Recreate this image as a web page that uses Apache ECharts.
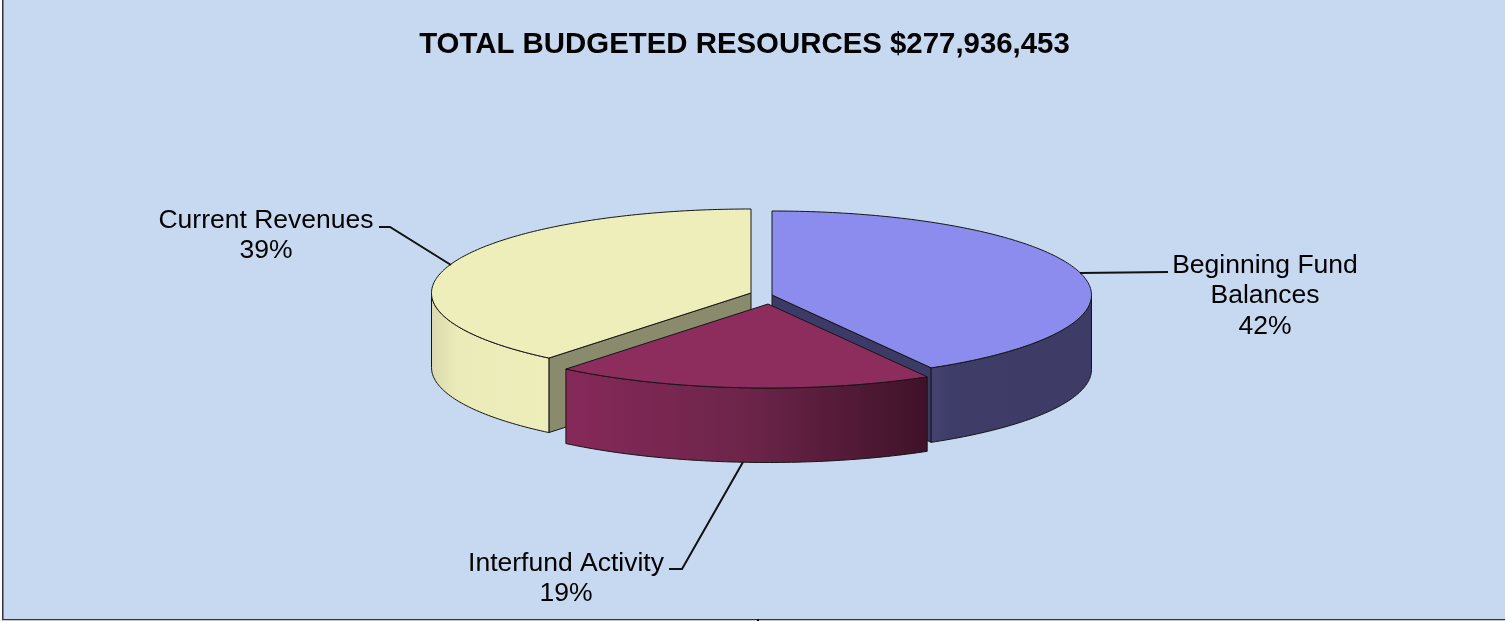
<!DOCTYPE html>
<html><head><meta charset="utf-8">
<style>html,body{margin:0;padding:0;background:#fff}#c{width:1505px;height:621px}</style>
<script src="https://cdn.jsdelivr.net/npm/echarts@6/dist/echarts.min.js"></script>
</head><body><div id="c"></div>
<script>
const titleText = 'TOTAL BUDGETED RESOURCES $277,936,453';
// clockwise from 12 o'clock
const categories = ['Beginning Fund\nBalances', 'Interfund Activity', 'Current Revenues'];
const shares = [41.7, 19.2, 39.1];

const RX = 319.5, RY = 84, DEPTH = 74.5;
const look = [
  {apex:[772,295], paint:1, top:'#8C8CEE', wall:'#3C3A66',
   side:[[0,'#45436F'],[0.12,'#3E3C68'],[1,'#3E3C66']],
   label:[1265,265], line:[[1080,273],[1168,272]]},
  {apex:[768,304], paint:2, top:'#8C2D5E', wall:'#6A2147',
   side:[[0,'#86295A'],[0.5,'#6C2549'],[1,'#3F1229']],
   label:[566,563], line:[[743,462],[682,569],[669,569]]},
  {apex:[751,293], paint:0, top:'#EEEEBB', wall:'#8A8A6C',
   side:[[0,'#D9D9AE'],[0.22,'#EBEBB9'],[1,'#EEEEBB']],
   label:[266,220], line:[[379,227],[390,227],[451,265]]}
];
const total = shares.reduce((a,b)=>a+b,0);
const STROKE = '#161616';

function pt(c, deg, dy){
  const t = deg*Math.PI/180;
  return [c[0]+RX*Math.sin(t), c[1]-RY*Math.cos(t)+(dy||0)];
}
function arc(c, a, b, dy){
  const out=[], n=Math.max(2,Math.ceil(Math.abs(b-a)));
  for(let i=0;i<=n;i++) out.push(pt(c,a+(b-a)*i/n,dy));
  return out;
}
function renderItem(params, api){
  const i = params.dataIndex, L = look[i];
  let before = 0;
  for(let k=0;k<i;k++) before += shares[k];
  const value = api.value(0);
  const a = before/total*360, b = (before+value)/total*360;
  const c = L.apex, base = L.paint*10;
  const kids = [];
  const st = (fill)=>({fill, stroke:STROKE, lineWidth:1, lineJoin:'round'});
  // radial cut faces that look towards the viewer
  const wall = (deg)=>{
    const e = pt(c,deg);
    kids.push({type:'polygon', z2:base+1, shape:{points:[c,e,[e[0],e[1]+DEPTH],[c[0],c[1]+DEPTH]]}, style:st(L.wall)});
  };
  if (i===0) wall(b);
  if (i===2) wall(a);
  // rim: only the part on the front half
  const f0 = Math.max(a,90), f1 = Math.min(b,270);
  if (f1>f0){
    const upper = arc(c,f0,f1,0), lower = arc(c,f1,f0,DEPTH);
    kids.push({type:'polygon', z2:base+2, shape:{points:upper.concat(lower)},
      style:st(new echarts.graphic.LinearGradient(0,0,1,0,L.side.map(s=>({offset:s[0],color:s[1]}))))});
  }
  // top face
  kids.push({type:'polygon', z2:base+3, shape:{points:[c].concat(arc(c,a,b,0))}, style:st(L.top)});
  // leader line and label
  kids.push({type:'polyline', z2:50, shape:{points:L.line}, style:{fill:null, stroke:'#111', lineWidth:2}});
  kids.push({type:'text', z2:51, x:L.label[0], y:L.label[1]-15,
    style:{text:api.value(1)+'\n'+Math.round(value/total*100)+'%', fill:'#000', align:'center', verticalAlign:'top',
      font:'26.5px "Liberation Sans", Arial, sans-serif', lineHeight:30.5}});
  return {type:'group', children:kids};
}
const chart = echarts.init(document.getElementById('c'), null, {renderer:'canvas'});
chart.setOption({
  animation:false,
  backgroundColor:'#fff',
  graphic:[
    {type:'rect', z:-1, shape:{x:2,y:0,width:1503,height:619}, style:{fill:'#C6D9F1'}},
    {type:'rect', z:-1, shape:{x:2,y:0,width:1.5,height:620}, style:{fill:'#333'}},
    {type:'rect', z:-1, shape:{x:2,y:619,width:1503,height:1}, style:{fill:'#333'}},
    {type:'rect', z:-1, shape:{x:2,y:620,width:1503,height:1}, style:{fill:'#C8C8C8'}},
    {type:'rect', z:-1, shape:{x:757,y:619,width:2,height:2}, style:{fill:'#000'}}
  ],
  title:{text:titleText, left:739.5, top:25, textAlign:'center',
    textStyle:{fontFamily:'"Liberation Sans", Arial, sans-serif', fontWeight:'bold', fontSize:29.4, color:'#000'}},
  series:[{type:'custom', coordinateSystem:'none', renderItem,
    data:categories.map((n,i)=>[shares[i],n])}]
});
</script></body></html>
